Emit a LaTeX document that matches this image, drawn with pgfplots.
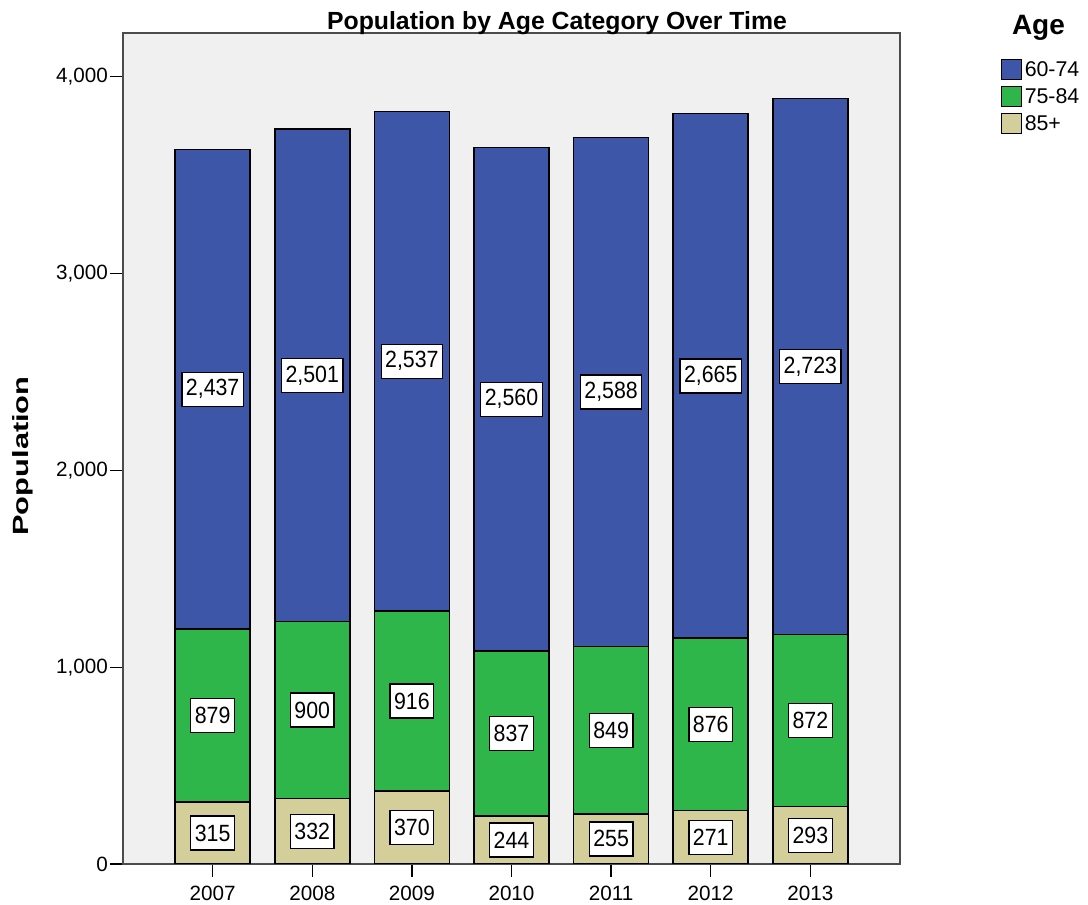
\documentclass[border=0pt]{standalone}
\usepackage{pgfplots}
\pgfplotsset{compat=1.18}
\usepackage{pgfplotstable}
\usepackage{fontspec}
\setmainfont{Liberation Sans}
\definecolor{cBlue}{HTML}{3D56A8}
\definecolor{cGreen}{HTML}{2EB64A}
\definecolor{cTan}{HTML}{D4CF9A}
\definecolor{bgGray}{HTML}{F0F0F0}

\pgfplotstableread{
x  a85 a75 a60
0  315 879 2437
1  332 900 2501
2  370 916 2537
3  244 837 2560
4  255 849 2588
5  271 876 2665
6  293 872 2723
}\popdata

\pgfplotstableread{
x mid label
0 157.5 315
0 754.5 879
0 2412.5 2,437
1 166 332
1 782 900
1 2482.5 2,501
2 185 370
2 828 916
2 2554.5 2,537
3 122 244
3 662.5 837
3 2361 2,560
4 127.5 255
4 679.5 849
4 2398 2,588
5 135.5 271
5 709 876
5 2479.5 2,665
6 146.5 293
6 729 872
6 2526.5 2,723
}\labdata

\pgfplotsset{
  sqlegend/.style={legend image code/.code={\draw[##1,draw=black,line width=0.9pt] (0pt,-7.5pt) rectangle (15pt,7.5pt);}},
}

\begin{document}
\begin{tikzpicture}
\path[use as bounding box] (-92.25pt,-30.75pt) rectangle (723.75pt,648pt);
\begin{axis}[
  at={(0pt,0pt)}, anchor=south west,
  scale only axis, width=582.75pt, height=623.25pt,
  ybar stacked, bar width=56.25pt,
  xmin=-0.9, xmax=6.9, ymin=0, ymax=4222,
  xtick={0,1,2,3,4,5,6},
  xticklabels={2007,2008,2009,2010,2011,2012,2013},
  ytick={0,1000,2000,3000,4000},
  scaled y ticks=false,
  /pgf/number format/1000 sep={,},
  /pgf/number format/assume math mode=true,
  tick pos=left, tick align=outside,
  major tick length=9.75pt,
  tick style={black, line width=1pt},
  axis line style={draw=black!70, line width=1.2pt},
  axis background/.style={fill=bgGray},
  ticklabel style={font=\fontsize{15.5}{18}\selectfont},
  xticklabel style={yshift=-3.5pt},
  yticklabel style={xshift=2pt},
  reverse legend,
  legend cell align=left,
  legend style={draw=none, fill=none, at={(1.1295,0.9695)}, anchor=north west,
    inner sep=0pt, font=\fontsize{16}{18}\selectfont, row sep=3.6pt,
    nodes={inner xsep=2pt, inner ysep=2pt}},
]
\addplot[fill=cTan, draw=black, line width=1.1pt, sqlegend] table[x=x,y=a85]{\popdata};
\addlegendentry{85+}
\addplot[fill=cGreen, draw=black, line width=1.1pt, sqlegend] table[x=x,y=a75]{\popdata};
\addlegendentry{75-84}
\addplot[fill=cBlue, draw=black, line width=1.1pt, sqlegend] table[x=x,y=a60]{\popdata};
\addlegendentry{60-74}
\end{axis}
\begin{axis}[
  at={(0pt,0pt)}, anchor=south west,
  scale only axis, width=582.75pt, height=623.25pt,
  xmin=-0.9, xmax=6.9, ymin=0, ymax=4222,
  hide axis, clip=false,
]
\addplot[draw=none, mark=none, nodes near coords={\scalebox{1}[1.1]{\pgfplotspointmeta}}, point meta=explicit symbolic,
  every node near coord/.append style={anchor=center, fill=white, draw=black,
    line width=0.9pt, inner xsep=3pt, inner ysep=0pt, minimum height=25.5pt,
    font=\fontsize{16}{18}\selectfont}]
  table[x=x, y=mid, meta=label]{\labdata};
\end{axis}
\node[anchor=base, font=\fontsize{18.6}{22}\selectfont\bfseries, inner sep=0pt] at (325.5pt,625.5pt) {Population by Age Category Over Time};
\node[anchor=base, font=\fontsize{21}{24}\selectfont\bfseries, inner sep=0pt] at (686.6pt,621.75pt) {Age};
\node[rotate=90, inner sep=0pt] at (-75.4pt,306pt) {\scalebox{1.4}[1]{\fontsize{16.5}{18}\selectfont\bfseries Population}};
\end{tikzpicture}
\end{document}
